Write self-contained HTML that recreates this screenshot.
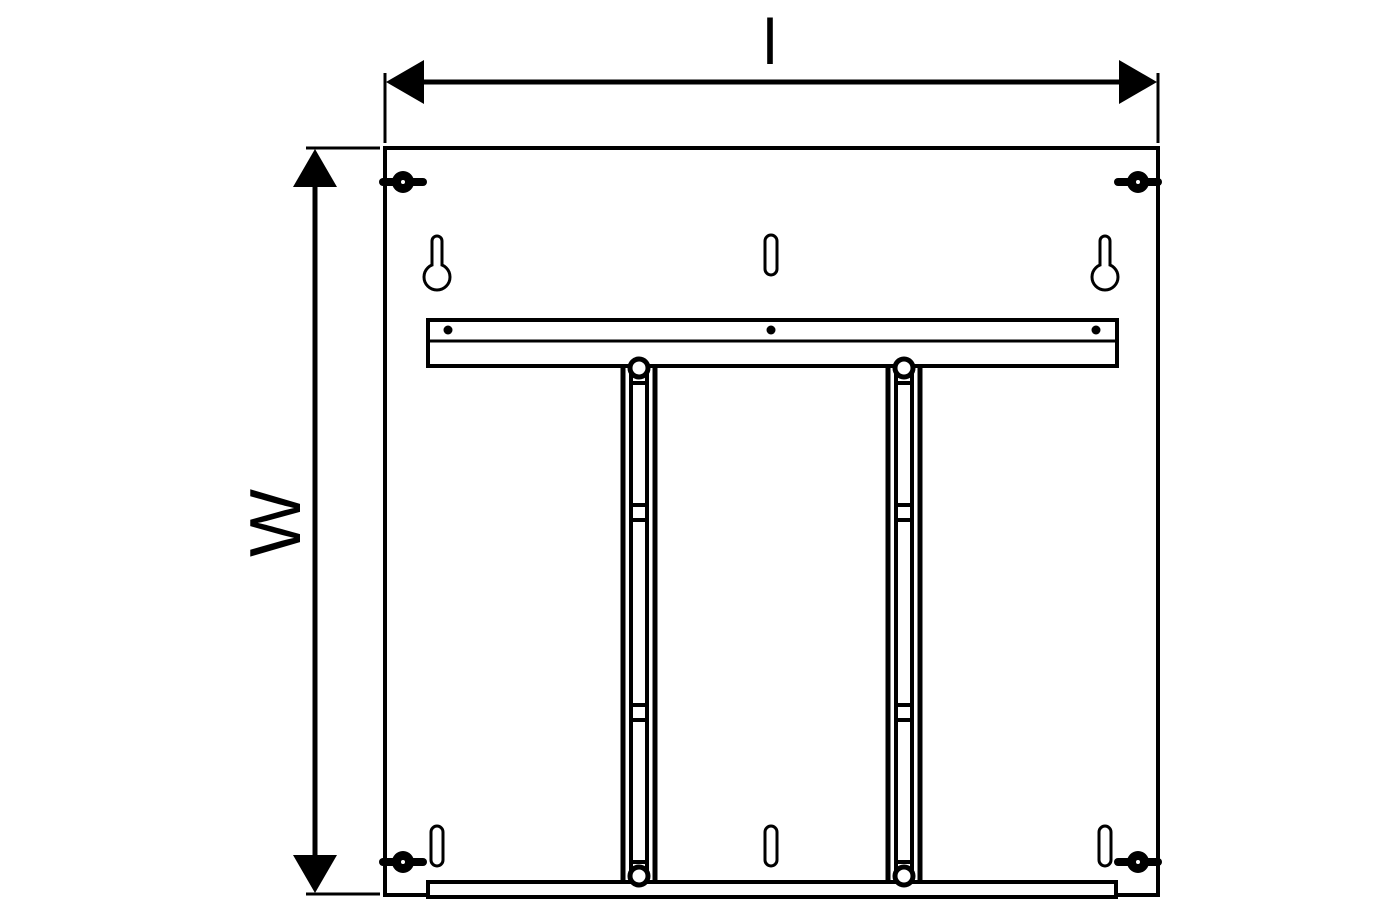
<!DOCTYPE html>
<html><head><style>html,body{margin:0;padding:0;background:#fff}svg{display:block}</style></head>
<body>
<svg width="1400" height="900" viewBox="0 0 1400 900" xmlns="http://www.w3.org/2000/svg">
<defs>
<g id="nut">
<line x1="-20" y1="0" x2="20" y2="0" stroke="#000" stroke-width="8" stroke-linecap="round"/>
<ellipse cx="0" cy="0" rx="11" ry="11" fill="#000"/>
<circle cx="0" cy="0" r="2" fill="#fff"/>
</g>
<g id="key">
<path d="M-5,30 L-5,6 A5,5 0 0 1 5,6 L5,30" fill="none" stroke="#000" stroke-width="3"/>
<circle cx="0" cy="42" r="13" fill="#fff" stroke="#000" stroke-width="3"/>
<rect x="-3.5" y="24" width="7" height="10" fill="#fff"/>
</g>
<g id="slot"><rect x="-6" y="-20" width="12" height="40" rx="6" fill="#fff" stroke="#000" stroke-width="3"/></g>
<g id="brk">
<line x1="-16" y1="368" x2="-16" y2="880" stroke="#000" stroke-width="5"/>
<line x1="16" y1="368" x2="16" y2="880" stroke="#000" stroke-width="5"/>
<line x1="-8" y1="368" x2="-8" y2="880" stroke="#000" stroke-width="4"/>
<line x1="8" y1="368" x2="8" y2="880" stroke="#000" stroke-width="4"/>
<g stroke="#000" stroke-width="4">
<line x1="-8" y1="383" x2="8" y2="383"/><line x1="-8" y1="505" x2="8" y2="505"/><line x1="-8" y1="520" x2="8" y2="520"/>
<line x1="-8" y1="705" x2="8" y2="705"/><line x1="-8" y1="720" x2="8" y2="720"/><line x1="-8" y1="862" x2="8" y2="862"/>
</g>
<circle cx="0" cy="368" r="9" fill="#fff" stroke="#000" stroke-width="5"/>
<circle cx="0" cy="876" r="9" fill="#fff" stroke="#000" stroke-width="5"/>
</g>
</defs>
<line x1="385" y1="73" x2="385" y2="143" stroke="#000" stroke-width="3"/>
<line x1="1158" y1="73" x2="1158" y2="143" stroke="#000" stroke-width="3"/>
<line x1="420" y1="82" x2="1125" y2="82" stroke="#000" stroke-width="5"/>
<polygon points="386,82 424,60 424,104" fill="#000"/>
<polygon points="1157,82 1119,60 1119,104" fill="#000"/>
<text x="770" y="64" font-family="Liberation Sans, sans-serif" font-size="64" text-anchor="middle">l</text>
<line x1="306" y1="148" x2="380" y2="148" stroke="#000" stroke-width="3"/>
<line x1="306" y1="894" x2="380" y2="894" stroke="#000" stroke-width="3"/>
<line x1="315" y1="180" x2="315" y2="862" stroke="#000" stroke-width="5"/>
<polygon points="315,149 293,187 337,187" fill="#000"/>
<polygon points="315,893 293,855 337,855" fill="#000"/>
<text transform="translate(300,523) rotate(-90)" font-family="Liberation Sans, sans-serif" font-size="72" text-anchor="middle">W</text>
<rect x="385" y="148" width="773" height="747" fill="none" stroke="#000" stroke-width="4"/>
<use href="#nut" x="403" y="182"/><use href="#nut" x="1138" y="182"/>
<use href="#nut" x="403" y="862"/><use href="#nut" x="1138" y="862"/>
<use href="#key" x="437" y="235"/><use href="#key" x="1105" y="235"/>
<use href="#slot" x="771" y="255"/>
<use href="#slot" x="437" y="846"/><use href="#slot" x="771" y="846"/><use href="#slot" x="1105" y="846"/>
<rect x="428" y="320" width="689" height="46" fill="#fff" stroke="#000" stroke-width="4"/>
<line x1="428" y1="341" x2="1117" y2="341" stroke="#000" stroke-width="3"/>
<circle cx="448" cy="330" r="4.5" fill="#000"/><circle cx="771" cy="330" r="4.5" fill="#000"/><circle cx="1096" cy="330" r="4.5" fill="#000"/>
<rect x="428" y="882" width="688" height="15" fill="#fff" stroke="#000" stroke-width="4"/>
<use href="#brk" x="639" y="0"/>
<use href="#brk" x="904" y="0"/>
</svg>
</body></html>
